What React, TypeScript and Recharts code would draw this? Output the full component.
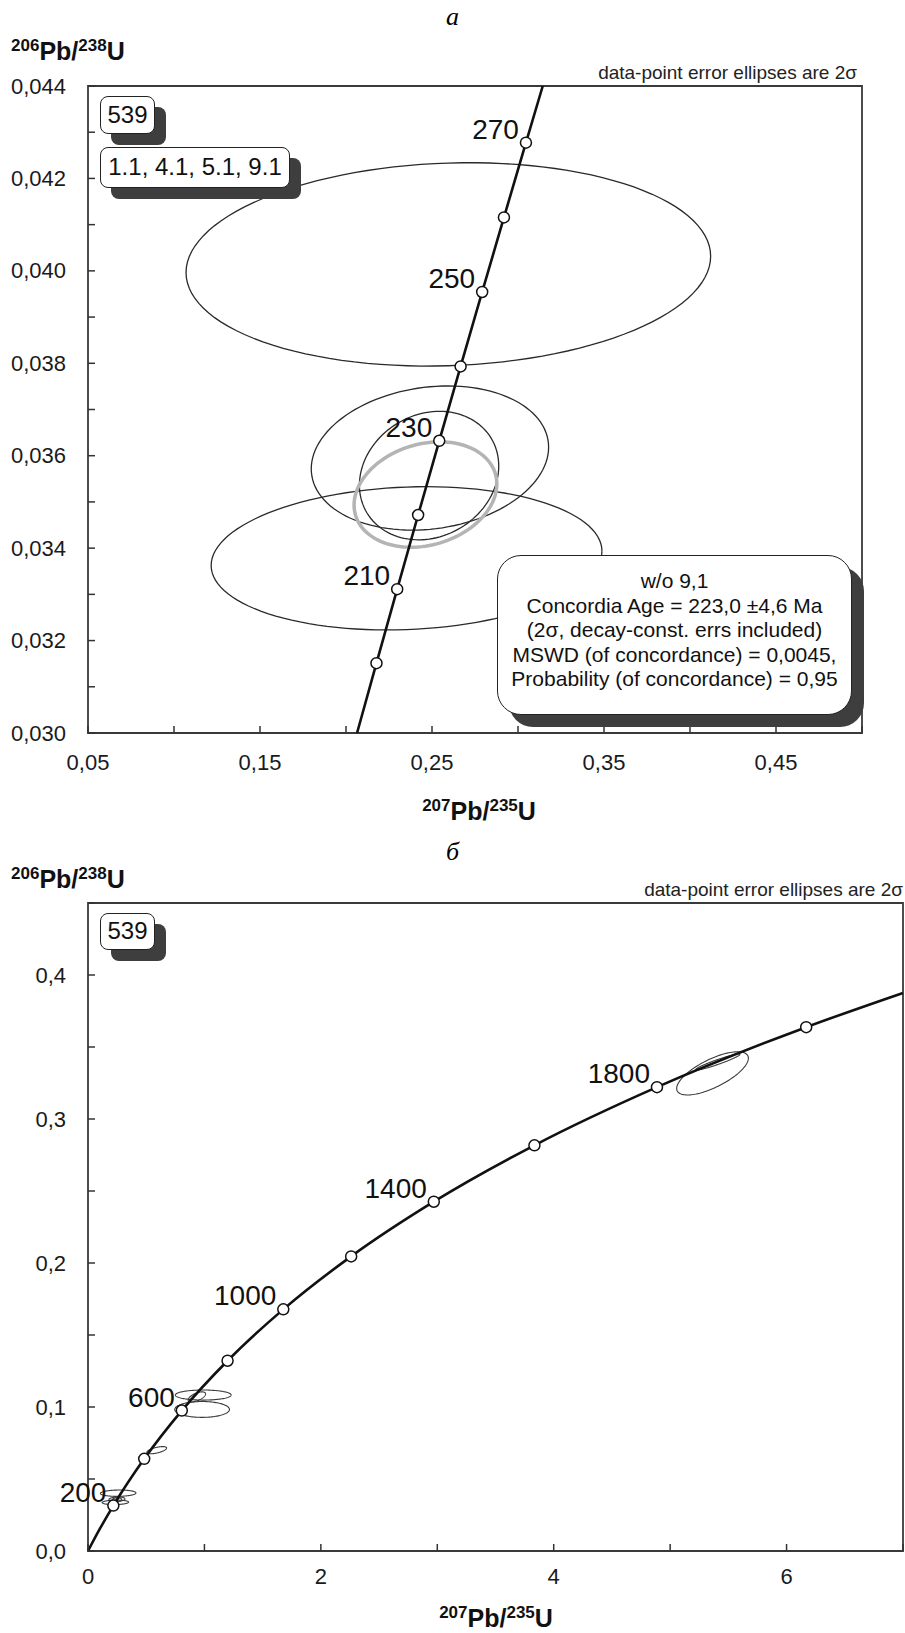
import React from 'react';
import { ComposedChart, Line, Scatter, XAxis, YAxis, ReferenceArea } from 'recharts';

const FONT = '"Liberation Sans", Arial, Helvetica, sans-serif';

// ---------- Panel а ----------
const concordiaAgesA = [190.55, 200, 210, 220, 230, 240, 250, 260, 270, 277.58];
const concordiaXA = [0.20643, 0.21771, 0.22976, 0.24193, 0.25422, 0.26664, 0.27917, 0.29183, 0.30462, 0.31439];
const concordiaYA = [0.03, 0.031511, 0.033113, 0.034717, 0.036323, 0.037932, 0.039543, 0.041157, 0.042773, 0.044];
const markerAgesA = [200, 210, 220, 230, 240, 250, 260, 270];
const labeledAgesA = [210, 230, 250, 270];

const ellipseCxA = [0.2595, 0.2488, 0.2483, 0.2352];
const ellipseCyA = [0.04014, 0.03595, 0.03557, 0.03378];
const ellipseRxA = [0.1525, 0.069, 0.0405, 0.1136];
const ellipseRyA = [0.0022, 0.00156, 0.00139, 0.00155];
const ellipseRhoA = [0.08, 0.15, 0.15, 0.1];

const meanCx = 0.2462;
const meanCy = 0.03516;
const meanRx = 0.0415;
const meanRy = 0.00114;
const meanRho = 0.2;

const xTicksA = [0.05, 0.1, 0.15, 0.2, 0.25, 0.3, 0.35, 0.4, 0.45, 0.5];
const xTickLabelsA = ['0,05', '', '0,15', '', '0,25', '', '0,35', '', '0,45', ''];
const yTicksA = [0.03, 0.031, 0.032, 0.033, 0.034, 0.035, 0.036, 0.037, 0.038, 0.039, 0.04, 0.041, 0.042, 0.043, 0.044];
const yTickLabelsA = ['0,030', '', '0,032', '', '0,034', '', '0,036', '', '0,038', '', '0,040', '', '0,042', '', '0,044'];

// ---------- Panel б ----------
const concordiaAgesB = [0, 100, 200, 400, 600, 800, 1000, 1200, 1400, 1600, 1800, 2000, 2111.4];
const concordiaXB = [0, 0.1035, 0.21771, 0.48281, 0.80563, 1.19873, 1.67741, 2.26029, 2.97008, 3.83441, 4.88691, 6.1685, 7];
const concordiaYB = [0, 0.015633, 0.031511, 0.06402, 0.09754, 0.13213, 0.1678, 0.2046, 0.24256, 0.28172, 0.3221, 0.36377, 0.38755];
const markerAgesB = [200, 400, 600, 800, 1000, 1200, 1400, 1600, 1800, 2000];
const labeledAgesB = [200, 600, 1000, 1400, 1800];

const ellipseCxB = [0.59, 0.99, 0.935, 0.98, 5.364, 5.41];
const ellipseCyB = [0.07, 0.1083, 0.107, 0.0983, 0.3317, 0.3396];
const ellipseRxB = [0.085, 0.24, 0.075, 0.235, 0.308, 0.19];
const ellipseRyB = [0.0025, 0.0035, 0.0035, 0.0055, 0.015, 0.0056];
const ellipseRhoB = [0.6, 0.0, 0.6, 0.0, 0.7, 0.95];

const xTicksB = [0, 1, 2, 3, 4, 5, 6, 7];
const xTickLabelsB = ['0', '', '2', '', '4', '', '6', ''];
const yTicksB = [0, 0.05, 0.1, 0.15, 0.2, 0.25, 0.3, 0.35, 0.4, 0.45];
const yTickLabelsB = ['0,0', '', '0,1', '', '0,2', '', '0,3', '', '0,4', ''];

// ---------- helpers ----------
type Pt = { x: number; y: number; label?: string };

function ellipseOutline(cx: number, cy: number, rx: number, ry: number, rho: number): Pt[] {
  const pts: Pt[] = [];
  const s = Math.sqrt(1 - rho * rho);
  const n = 120;
  for (let i = 0; i <= n; i++) {
    const t = (2 * Math.PI * i) / n;
    pts.push({ x: cx + rx * Math.cos(t), y: cy + ry * (rho * Math.cos(t) + s * Math.sin(t)) });
  }
  return pts;
}

function curve(xs: number[], ys: number[]): Pt[] {
  return xs.map((x, i) => ({ x, y: ys[i] }));
}

function markers(ages: number[], xs: number[], ys: number[], marked: number[], labeled: number[]): Pt[] {
  const out: Pt[] = [];
  ages.forEach((a, i) => {
    if (marked.includes(a)) out.push({ x: xs[i], y: ys[i], label: labeled.includes(a) ? String(a) : '' });
  });
  return out;
}

function lookup(ticks: number[], labels: string[], v: number) {
  const i = ticks.findIndex((t) => Math.abs(t - v) < 1e-9);
  return i >= 0 ? labels[i] : '';
}

const makeXTick = (ticks: number[], labels: string[], off: number) => (p: any) => {
  const { x, y, payload } = p;
  const lab = lookup(ticks, labels, payload.value);
  return (
    <g>
      <line x1={x} y1={y} x2={x} y2={y - 7} stroke="#333" strokeWidth={1.5} />
      {lab ? (
        <text x={x} y={y + off} textAnchor="middle" dominantBaseline="central" fontSize={22} fontFamily={FONT} fill="#1a1a1a">
          {lab}
        </text>
      ) : null}
    </g>
  );
};

const makeYTick = (ticks: number[], labels: string[]) => (p: any) => {
  const { x, y, payload } = p;
  const lab = lookup(ticks, labels, payload.value);
  return (
    <g>
      <line x1={x} y1={y} x2={x + 7} y2={y} stroke="#333" strokeWidth={1.5} />
      {lab ? (
        <text x={x - 22} y={y} textAnchor="end" dominantBaseline="central" fontSize={22} fontFamily={FONT} fill="#1a1a1a">
          {lab}
        </text>
      ) : null}
    </g>
  );
};

const renderMarker = (p: any) => {
  const { cx, cy, payload } = p;
  return (
    <g>
      <circle cx={cx} cy={cy} r={5.5} fill="#fff" stroke="#111" strokeWidth={1.5} />
      {payload && payload.label ? (
        <text x={cx - 7} y={cy - 4} textAnchor="end" fontSize={28} fontFamily={FONT} fill="#111">
          {payload.label}
        </text>
      ) : null}
    </g>
  );
};

const ellipsesA = ellipseCxA.map((c, i) => ellipseOutline(c, ellipseCyA[i], ellipseRxA[i], ellipseRyA[i], ellipseRhoA[i]));
const meanEllipseA = ellipseOutline(meanCx, meanCy, meanRx, meanRy, meanRho);
const ellipsesB = [
  ...ellipsesA,
  ...ellipseCxB.map((c, i) => ellipseOutline(c, ellipseCyB[i], ellipseRxB[i], ellipseRyB[i], ellipseRhoB[i])),
];

const concA = curve(concordiaXA, concordiaYA);
const concB = curve(concordiaXB, concordiaYB);
const markA = markers(concordiaAgesA, concordiaXA, concordiaYA, markerAgesA, labeledAgesA);
const markB = markers(concordiaAgesB, concordiaXB, concordiaYB, markerAgesB, labeledAgesB);

const abs = (left: number, top: number, extra: React.CSSProperties = {}): React.CSSProperties => ({
  position: 'absolute',
  left,
  top,
  ...extra,
});

const AxisTitle = ({ a, b }: { a: string; b: string }) => (
  <span style={{ fontWeight: 'bold', fontSize: 25, fontFamily: FONT, color: '#111', whiteSpace: 'nowrap' }}>
    <span style={{ fontSize: 17, position: 'relative', top: -9 }}>{a}</span>Pb/
    <span style={{ fontSize: 17, position: 'relative', top: -9 }}>{b}</span>U
  </span>
);

const box = (left: number, top: number, w: number, h: number, r: number, sh: number): React.CSSProperties => ({
  position: 'absolute',
  left,
  top,
  width: w,
  height: h,
  boxSizing: 'border-box',
  border: '1.5px solid #222',
  borderRadius: r,
  background: '#fff',
  boxShadow: `${sh}px ${sh}px 0 #3e3e3e`,
  fontFamily: FONT,
  color: '#111',
  textAlign: 'center',
  whiteSpace: 'nowrap',
});

export default function App() {
  return (
    <div style={{ position: 'absolute', left: 0, top: 0, width: 905, height: 1633, background: '#fff', fontFamily: FONT, overflow: 'hidden' }}>
      {/* ---------------- panel а ---------------- */}
      <div style={abs(0, 0)}>
        <ComposedChart width={905} height={810} margin={{ top: 86, right: 43, bottom: 76, left: 87 }}>
          <XAxis type="number" dataKey="x" domain={[0.05, 0.5]} ticks={xTicksA} interval={0}
            tickSize={0} tickMargin={0} axisLine={false} tickLine={false} height={1} tick={makeXTick(xTicksA, xTickLabelsA, 29)} />
          <YAxis type="number" dataKey="y" domain={[0.03, 0.044]} ticks={yTicksA} interval={0}
            tickSize={0} tickMargin={0} axisLine={false} tickLine={false} width={1} tick={makeYTick(yTicksA, yTickLabelsA)} />
          <ReferenceArea x1={0.05} x2={0.5} y1={0.03} y2={0.044} fill="none" fillOpacity={0} stroke="#3a3a3a" strokeWidth={1.8} ifOverflow="visible" />
          {ellipsesA.map((pts, i) => (
            <Line key={'ea' + i} data={pts} dataKey="y" type="linear" dot={false} activeDot={false} stroke="#2a2a2a" strokeWidth={1.3} isAnimationActive={false} />
          ))}
          <Line data={meanEllipseA} dataKey="y" type="linear" dot={false} activeDot={false} stroke="#b4b4b4" strokeWidth={3.5} isAnimationActive={false} />
          <Line data={concA} dataKey="y" type="linear" dot={false} activeDot={false} stroke="#111" strokeWidth={2.6} isAnimationActive={false} />
          <Scatter data={markA} dataKey="y" shape={renderMarker} isAnimationActive={false} />
        </ComposedChart>
      </div>

      <div style={abs(0, 2, { width: 905, textAlign: 'center', fontFamily: '"Liberation Serif", "Times New Roman", serif', fontStyle: 'italic', fontSize: 26, lineHeight: '30px' })}>а</div>
      <div style={abs(11, 36, { lineHeight: '30px' })}><AxisTitle a="206" b="238" /></div>
      <div style={abs(557, 61, { width: 300, textAlign: 'right', fontSize: 19, lineHeight: '24px', color: '#222' })}>data-point error ellipses are 2σ</div>
      <div style={abs(379, 796, { width: 200, textAlign: 'center', lineHeight: '30px' })}><AxisTitle a="207" b="235" /></div>

      <div style={box(100, 96, 55, 38, 8, 11)}><span style={{ fontSize: 24, lineHeight: '35px' }}>539</span></div>
      <div style={box(100, 147, 190, 41, 8, 11)}><span style={{ fontSize: 24, lineHeight: '38px' }}>1.1, 4.1, 5.1, 9.1</span></div>
      <div style={{ ...box(497, 555, 355, 160, 24, 12), fontSize: 21, lineHeight: '24.5px', paddingTop: 13 }}>
        <div>w/o 9,1</div>
        <div>Concordia Age = 223,0 ±4,6 Ma</div>
        <div>(2σ, decay-const. errs included)</div>
        <div>MSWD (of concordance) = 0,0045,</div>
        <div>Probability (of concordance) = 0,95</div>
      </div>

      {/* ---------------- panel б ---------------- */}
      <div style={abs(0, 820)}>
        <ComposedChart width={905} height={813} margin={{ top: 83, right: 2, bottom: 81, left: 87 }}>
          <XAxis type="number" dataKey="x" domain={[0, 7]} ticks={xTicksB} interval={0}
            tickSize={0} tickMargin={0} axisLine={false} tickLine={false} height={1} tick={makeXTick(xTicksB, xTickLabelsB, 25)} />
          <YAxis type="number" dataKey="y" domain={[0, 0.45]} ticks={yTicksB} interval={0}
            tickSize={0} tickMargin={0} axisLine={false} tickLine={false} width={1} tick={makeYTick(yTicksB, yTickLabelsB)} />
          <ReferenceArea x1={0} x2={7} y1={0} y2={0.45} fill="none" fillOpacity={0} stroke="#3a3a3a" strokeWidth={1.8} ifOverflow="visible" />
          {ellipsesB.map((pts, i) => (
            <Line key={'eb' + i} data={pts} dataKey="y" type="linear" dot={false} activeDot={false} stroke="#3a3a3a" strokeWidth={1.1} isAnimationActive={false} />
          ))}
          <Line data={concB} dataKey="y" type="monotone" dot={false} activeDot={false} stroke="#111" strokeWidth={2.6} isAnimationActive={false} />
          <Scatter data={markB} dataKey="y" shape={renderMarker} isAnimationActive={false} />
        </ComposedChart>
      </div>

      <div style={abs(0, 837, { width: 905, textAlign: 'center', fontFamily: '"Liberation Serif", "Times New Roman", serif', fontStyle: 'italic', fontSize: 26, lineHeight: '30px' })}>б</div>
      <div style={abs(11, 864, { lineHeight: '30px' })}><AxisTitle a="206" b="238" /></div>
      <div style={abs(603, 878, { width: 300, textAlign: 'right', fontSize: 19, lineHeight: '24px', color: '#222' })}>data-point error ellipses are 2σ</div>
      <div style={abs(396, 1605, { width: 200, textAlign: 'center', lineHeight: '26px' })}><AxisTitle a="207" b="235" /></div>

      <div style={box(100, 913, 55, 37, 8, 11)}><span style={{ fontSize: 24, lineHeight: '34px' }}>539</span></div>
    </div>
  );
}
